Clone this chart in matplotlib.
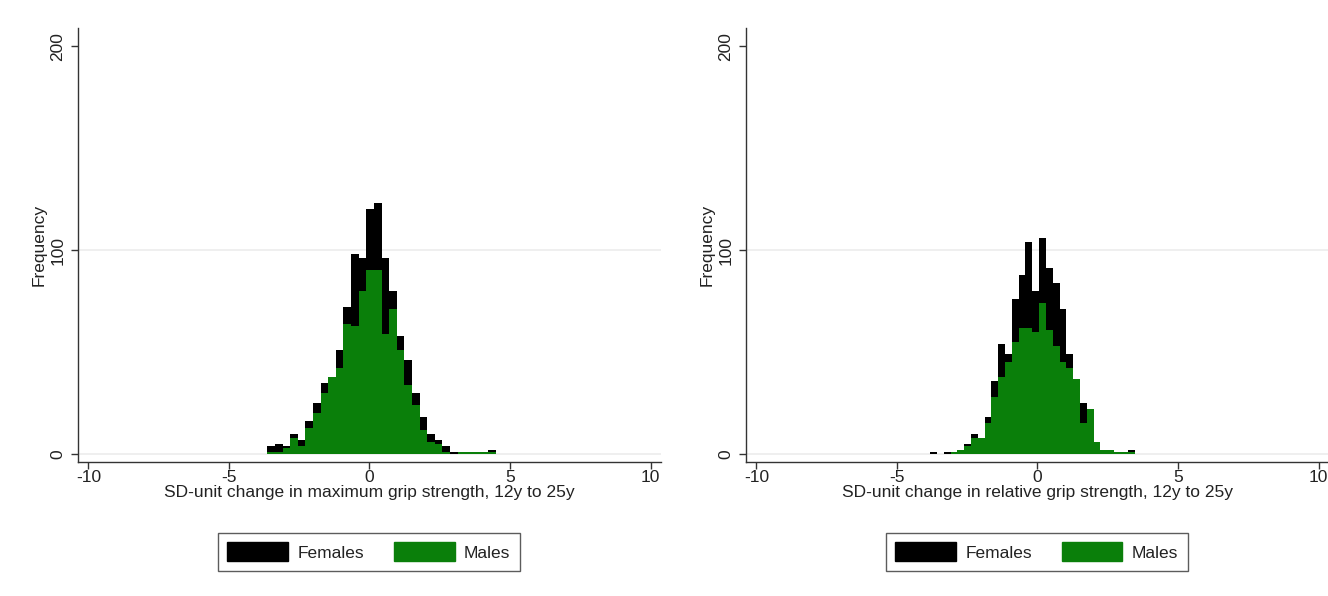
import numpy as np
import matplotlib
matplotlib.use("Agg")
import matplotlib.pyplot as plt
from matplotlib.patches import Patch

plt.rcParams['font.family'] = ['Liberation Sans', 'DejaVu Sans']

# --- data (30 bins per panel) ---
# left panel: maximum grip strength
max_start = -3.63
max_width = 0.2706
max_females = [4, 5, 4, 10, 7, 16, 25, 35, 36, 51, 72, 98, 96, 120, 123,
               96, 80, 58, 46, 30, 18, 10, 7, 4, 1, 0, 1, 1, 1, 2]
max_males = [1, 1, 3, 8, 4, 13, 20, 30, 38, 42, 64, 63, 80, 90, 90,
             59, 71, 51, 34, 24, 12, 6, 5, 1, 0, 1, 1, 1, 1, 1]

# right panel: relative grip strength
rel_start = -3.82
rel_width = 0.2425
rel_females = [1, 0, 1, 1, 2, 5, 10, 8, 18, 36, 54, 49, 76, 88, 104,
               80, 106, 91, 84, 71, 49, 37, 25, 20, 5, 2, 2, 1, 0, 2]
rel_males = [0, 0, 0, 1, 2, 4, 8, 8, 15, 28, 38, 45, 55, 62, 62,
             60, 74, 61, 53, 45, 42, 37, 15, 22, 6, 2, 2, 1, 1, 1]

x_ticks = [-10, -5, 0, 5, 10]
y_ticks = [0, 100, 200]
x_labels = ["SD-unit change in maximum grip strength, 12y to 25y",
            "SD-unit change in relative grip strength, 12y to 25y"]

BLACK = "#000000"
GREEN = "#0a7f0a"
TEXT = "#222222"
FS = 12.5

fig = plt.figure(figsize=(13.28, 5.96), dpi=100)

panels = [
    (0.0587, max_start, max_width, max_females, max_males, x_labels[0]),
    (0.5617, rel_start, rel_width, rel_females, rel_males, x_labels[1]),
]

for left, start, width, fem, mal, xlabel in panels:
    ax = fig.add_axes([left, 0.2248, 0.439, 0.728])
    edges = start + width * np.arange(len(fem))
    # females behind, males drawn over them
    ax.bar(edges, fem, width=width, align='edge', color=BLACK, linewidth=0, zorder=2)
    ax.bar(edges, mal, width=width, align='edge', color=GREEN, linewidth=0, zorder=3)

    for yv in [0, 100]:
        ax.axhline(yv, color="#ececec", lw=1.2, zorder=1)

    ax.set_xlim(-10.37, 10.37)
    ax.set_ylim(-3.9, 208.8)
    ax.set_xticks(x_ticks)
    ax.set_yticks(y_ticks)
    ax.set_xticklabels([str(t) for t in x_ticks])
    ax.set_yticklabels([str(t) for t in y_ticks], rotation=90, va='center')
    ax.tick_params(axis='both', direction='out', length=5, width=1, colors="#333333",
                   labelsize=FS, labelcolor=TEXT)
    ax.tick_params(axis='y', pad=4)
    ax.tick_params(axis='x', pad=1)
    for s in ['top', 'right']:
        ax.spines[s].set_visible(False)
    for s in ['left', 'bottom']:
        ax.spines[s].set_color("#333333")
        ax.spines[s].set_linewidth(1)

    ax.set_xlabel(xlabel, fontsize=FS, color=TEXT, labelpad=0)
    ax.set_ylabel("Frequency", fontsize=FS, color=TEXT, labelpad=3)

    handles = [Patch(facecolor=BLACK, edgecolor=BLACK, label="Females"),
               Patch(facecolor=GREEN, edgecolor=GREEN, label="Males")]
    leg = ax.legend(handles=handles, loc='center', bbox_to_anchor=(0.499, -0.207),
                    ncol=2, frameon=True, fancybox=False, fontsize=FS,
                    handlelength=3.5, handleheight=1.3, columnspacing=1.7,
                    handletextpad=0.55, borderpad=0.55, borderaxespad=0)
    leg.get_frame().set_edgecolor("#333333")
    leg.get_frame().set_linewidth(1)
    for t in leg.get_texts():
        t.set_color(TEXT)

fig.savefig("out.png", dpi=100, facecolor="white")
